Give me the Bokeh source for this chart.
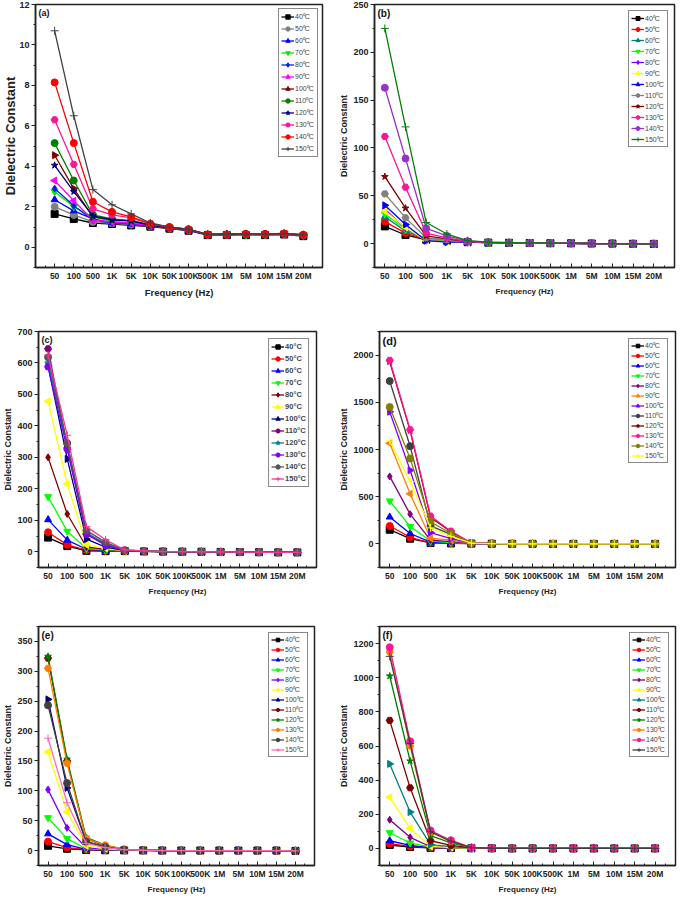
import math
from bokeh.plotting import figure
from bokeh.layouts import column, row
from bokeh.models import FixedTicker, Legend, LegendItem, Label, Range1d
from bokeh.embed import file_html
from bokeh.resources import INLINE

freq_labels = ["50", "100", "500", "1K", "5K", "10K", "50K", "100K", "500K", "1M", "5M", "10M", "15M", "20M"]
temps = [40, 50, 60, 70, 80, 90, 100, 110, 120, 130, 140, 150]

a_values = [
    [1.65, 1.40, 1.20, 1.15, 1.08, 1.02, 0.92, 0.82, 0.60, 0.60, 0.60, 0.60, 0.63, 0.55],
    [2.00, 1.60, 1.25, 1.18, 1.12, 1.05, 0.95, 0.85, 0.62, 0.62, 0.62, 0.62, 0.65, 0.58],
    [2.35, 1.80, 1.40, 1.22, 1.15, 1.06, 0.95, 0.85, 0.62, 0.64, 0.66, 0.64, 0.67, 0.58],
    [2.75, 2.00, 1.50, 1.28, 1.20, 1.08, 0.96, 0.86, 0.63, 0.63, 0.60, 0.63, 0.66, 0.60],
    [2.90, 2.05, 1.35, 1.20, 1.18, 1.05, 0.95, 0.84, 0.62, 0.65, 0.68, 0.65, 0.68, 0.60],
    [3.30, 2.30, 1.35, 1.25, 1.20, 1.07, 0.96, 0.85, 0.62, 0.62, 0.64, 0.62, 0.66, 0.58],
    [4.55, 2.90, 1.50, 1.35, 1.30, 1.10, 0.97, 0.87, 0.63, 0.63, 0.65, 0.64, 0.67, 0.60],
    [5.15, 3.30, 1.60, 1.40, 1.32, 1.12, 0.98, 0.88, 0.63, 0.63, 0.64, 0.64, 0.67, 0.60],
    [4.05, 2.75, 1.55, 1.35, 1.30, 1.10, 0.97, 0.87, 0.63, 0.65, 0.66, 0.65, 0.68, 0.60],
    [6.30, 4.10, 1.90, 1.60, 1.45, 1.15, 0.99, 0.88, 0.62, 0.63, 0.65, 0.65, 0.67, 0.60],
    [8.15, 5.15, 2.25, 1.75, 1.50, 1.17, 1.00, 0.89, 0.63, 0.62, 0.66, 0.66, 0.68, 0.62],
    [10.70, 6.50, 2.85, 2.10, 1.65, 1.20, 1.00, 0.90, 0.64, 0.64, 0.65, 0.65, 0.68, 0.62],
]

b_values = [
    [18, 9, 4, 3, 1.5, 1.0, 0.8, 0.6, 0.4, 0.3, 0.1, 0.0, -0.2, -0.3],
    [23, 11, 4.5, 3, 1.5, 1.0, 0.8, 0.6, 0.4, 0.3, 0.1, 0.0, -0.2, -0.3],
    [28, 13, 5, 3, 1.5, 1.0, 0.8, 0.6, 0.4, 0.3, 0.1, 0.0, -0.2, -0.3],
    [31, 15, 5, 3, 1.5, 1.0, 0.8, 0.6, 0.4, 0.3, 0.1, 0.0, -0.2, -0.3],
    [36, 16, 3, 2, 1.5, 1.0, 0.8, 0.6, 0.4, 0.3, 0.1, 0.0, -0.2, -0.3],
    [34, 17, 3, 2, 1.5, 1.0, 0.8, 0.6, 0.4, 0.3, 0.1, 0.0, -0.2, -0.3],
    [40, 20, 3, 1.5, 1.5, 1.0, 0.8, 0.6, 0.4, 0.3, 0.1, 0.0, -0.2, -0.3],
    [52, 27, 6, 4, 2, 1.2, 0.8, 0.6, 0.4, 0.3, 0.1, 0.0, -0.2, -0.3],
    [70, 37, 8, 5, 2, 1.2, 0.8, 0.6, 0.4, 0.3, 0.1, 0.0, -0.2, -0.3],
    [112, 59, 11, 6, 2, 1.3, 0.8, 0.6, 0.4, 0.3, 0.1, 0.0, -0.2, -0.3],
    [163, 89, 16, 8, 2.5, 1.4, 0.9, 0.6, 0.4, 0.3, 0.1, 0.0, -0.2, -0.3],
    [225, 122, 22, 10, 3, 1.5, 0.9, 0.7, 0.5, 0.3, 0.1, 0.0, -0.2, -0.3],
]

c_values = [
    [45, 18, 3, 2, 2, 1, 0.5, 0.3, 0, -0.5, -1, -1.5, -2, -2],
    [62, 22, 5, 3, 2, 1, 0.5, 0.3, 0, -0.5, -1, -1.5, -2, -2],
    [102, 37, 8, 4, 3, 1.5, 0.5, 0.3, 0, -0.5, -1, -1.5, -2, -2],
    [175, 65, 10, 5, 3, 1.5, 0.5, 0.3, 0, -0.5, -1, -1.5, -2, -2],
    [300, 120, 15, 8, 3, 1.5, 0.5, 0.3, 0, -0.5, -1, -1.5, -2, -2],
    [478, 215, 22, 10, 3, 2, 0.6, 0.3, 0, -0.5, -1, -1.5, -2, -2],
    [590, 295, 40, 15, 4, 2, 0.6, 0.3, 0, -0.5, -1, -1.5, -2, -2],
    [645, 330, 55, 22, 4, 2, 0.7, 0.3, 0, -0.5, -1, -1.5, -2, -2],
    [600, 340, 60, 25, 5, 2.5, 0.7, 0.3, 0, -0.5, -1, -1.5, -2, -2],
    [588, 325, 58, 20, 4, 2, 0.7, 0.3, 0, -0.5, -1, -1.5, -2, -2],
    [618, 345, 68, 30, 5, 2.5, 0.8, 0.4, 0, -0.5, -1, -1.5, -2, -2],
    [625, 370, 80, 38, 6, 3, 0.8, 0.4, 0, -0.5, -1, -1.5, -2, -2],
]

d_values = [
    [150, 55, 10, 5, 3, 2, 1, 0.5, 0, 0, 0, 0, 0, 0],
    [190, 70, 12, 8, 3, 2, 1, 0.5, 0, 0, 0, 0, 0, 0],
    [285, 110, 18, 12, 4, 2, 1, 0.5, 0, 0, 0, 0, 0, 0],
    [455, 185, 30, 15, 5, 2, 1, 0.5, 0, 0, 0, 0, 0, 0],
    [715, 315, 40, 25, 5, 3, 1, 0.5, 0, 0, 0, 0, 0, 0],
    [1065, 530, 60, 40, 6, 3, 1, 0.5, 0, 0, 0, 0, 0, 0],
    [1400, 780, 120, 55, 7, 3, 1, 0.5, 0, 0, 0, 0, 0, 0],
    [1725, 1035, 190, 100, 8, 4, 1, 0.5, 0, 0, 0, 0, 0, 0],
    [1930, 1200, 280, 130, 10, 4, 1, 0.5, 0, 0, 0, 0, 0, 0],
    [1945, 1210, 295, 135, 10, 5, 1, 0.5, 0, 0, 0, 0, 0, 0],
    [1450, 905, 235, 110, 9, 4, 1, 0.5, 0, 0, 0, 0, 0, 0],
    [1090, 660, 170, 80, 8, 3, 1, 0.5, 0, 0, 0, 0, 0, 0],
]

e_values = [
    [8, 3, 1, 0.5, 0.3, 0.2, 0, 0, 0, 0, 0, 0, 0, -0.5],
    [15, 5, 1.5, 1, 0.5, 0.2, 0, 0, 0, 0, 0, 0, 0, -0.5],
    [28, 10, 2, 1, 0.5, 0.2, 0, 0, 0, 0, 0, 0, 0, -0.5],
    [55, 20, 3, 1.5, 1, 0.3, 0, 0, 0, 0, 0, 0, 0, -0.5],
    [102, 38, 5, 2, 1, 0.3, 0, 0, 0, 0, 0, 0, 0, -0.5],
    [165, 65, 8, 3, 1, 0.4, 0, 0, 0, 0, 0, 0, 0, -0.5],
    [253, 105, 15, 6, 1.5, 0.5, 0.1, 0, 0, 0, 0, 0, 0, -0.5],
    [322, 150, 20, 8, 2, 0.6, 0.1, 0, 0, 0, 0, 0, 0, -0.5],
    [325, 153, 22, 9, 2, 0.6, 0.1, 0, 0, 0, 0, 0, 0, -0.5],
    [305, 146, 20, 9, 2, 0.6, 0.1, 0, 0, 0, 0, 0, 0, -0.5],
    [243, 113, 15, 6, 1.5, 0.5, 0.1, 0, 0, 0, 0, 0, 0, -0.5],
    [188, 80, 12, 5, 1.5, 0.5, 0.1, 0, 0, 0, 0, 0, 0, -0.5],
]

f_values = [
    [20, 8, 3, 2, 1, 0.5, 0, 0, 0, 0, 0, 0, 0, 0],
    [28, 12, 4, 3, 1, 0.5, 0, 0, 0, 0, 0, 0, 0, 0],
    [45, 18, 5, 3, 1, 0.5, 0, 0, 0, 0, 0, 0, 0, 0],
    [92, 32, 8, 5, 1, 0.5, 0, 0, 0, 0, 0, 0, 0, 0],
    [168, 65, 10, 5, 1.5, 0.5, 0, 0, 0, 0, 0, 0, 0, 0],
    [300, 118, 12, 5, 1.5, 0.5, 0, 0, 0, 0, 0, 0, 0, 0],
    [495, 213, 22, 10, 2, 1, 0, 0, 0, 0, 0, 0, 0, 0],
    [750, 355, 45, 18, 3, 1, 0, 0, 0, 0, 0, 0, 0, 0],
    [1010, 512, 75, 32, 4, 1, 0, 0, 0, 0, 0, 0, 0, 0],
    [1150, 600, 95, 40, 5, 1, 0, 0, 0, 0, 0, 0, 0, 0],
    [1178, 628, 105, 48, 5, 1, 0, 0, 0, 0, 0, 0, 0, 0],
    [1125, 615, 98, 42, 5, 1, 0, 0, 0, 0, 0, 0, 0, 0],
]

# ---- styles ----
L = ("triangle", math.pi / 2)
R = ("triangle", -math.pi / 2)
SQ = ("square", 0); CI = ("circle", 0); TR = ("triangle", 0); IT = ("inverted_triangle", 0)
DI = ("diamond", 0); HX = ("hex", 0); ST = ("star", 0); CR = ("cross", 0)

FONT = "Liberation Sans"

panels = [
    dict(tag="(a)", vals=a_values, deg="⁰C",
         colors=["#000000", "#808080", "#0000ff", "#00ee00", "#0022ee", "#ff00ff", "#800000", "#008000", "#000080", "#ff1493", "#ff0000", "#404040"],
         markers=[SQ, CI, TR, IT, DI, L, R, CI, ST, HX, CI, CR],
         yr=(-1, 12), yticks=[0, 2, 4, 6, 8, 10, 12], ystep=1, xr=(-1, 14),
         w=336, h=300, bl=28, br=14, bt=4, bb=30, ytitle=13, yls=-2, xtitle=9.5, tagsize=9,
         lg=dict(gh=11, sp=1, m=4, fs=7)),
    dict(tag="(b)", vals=b_values, deg="⁰C",
         colors=["#000000", "#ff0000", "#008080", "#00ff00", "#8000ff", "#ffff00", "#0000ff", "#808080", "#800000", "#ff1493", "#9932cc", "#008000"],
         markers=[SQ, CI, TR, IT, DI, L, R, HX, ST, HX, CI, CR],
         yr=(-25, 250), yticks=[0, 50, 100, 150, 200, 250], ystep=25, xr=(-0.5, 14),
         w=341, h=300, bl=28, br=3, bt=4, bb=30, ytitle=9, yls=1, xtitle=8, tagsize=10,
         lg=dict(gh=10, sp=1, m=6, fs=7)),
    dict(tag="(c)", vals=c_values, deg="°C",
         colors=["#000000", "#ff0000", "#0000ff", "#00ff00", "#800000", "#ffff00", "#000080", "#800080", "#008080", "#8000ff", "#555555", "#ff3399"],
         markers=[SQ, CI, TR, IT, DI, L, R, HX, ST, HX, CI, CR],
         yr=(-50, 700), yticks=[0, 100, 200, 300, 400, 500, 600, 700], ystep=50, xr=(-0.5, 14),
         w=336, h=298, bl=30, br=20, bt=31, bb=26, ytitle=9, yls=1, xtitle=8, tagsize=9,
         lg=dict(gh=11, sp=1, m=7, fs=7.5)),
    dict(tag="(d)", vals=d_values, deg="⁰C",
         colors=["#000000", "#ff0000", "#0000ff", "#00ff00", "#800080", "#ff8000", "#8000ff", "#404040", "#800000", "#ff1493", "#808000", "#ffff00"],
         markers=[SQ, CI, TR, IT, DI, L, R, CI, ST, HX, CI, CR],
         yr=(-250, 2250), yticks=[0, 500, 1000, 1500, 2000], ystep=250, xr=(-0.5, 14),
         w=341, h=298, bl=34, br=2, bt=27, bb=26, ytitle=9, yls=1, xtitle=8, tagsize=11,
         lg=dict(gh=9, sp=1, m=7, fs=7)),
    dict(tag="(e)", vals=e_values, deg="⁰C",
         colors=["#000000", "#ff0000", "#0000ff", "#00ff00", "#8000ff", "#ffff00", "#000080", "#800000", "#008000", "#ff8000", "#404040", "#ff69b4"],
         markers=[SQ, CI, TR, IT, DI, L, R, HX, ST, HX, CI, CR],
         yr=(-25, 375), yticks=[0, 50, 100, 150, 200, 250, 300, 350], ystep=25, xr=(-0.5, 14),
         w=336, h=298, bl=30, br=22, bt=28, bb=26, ytitle=9, yls=1, xtitle=8, tagsize=10,
         lg=dict(gh=9, sp=1, m=6, fs=7)),
    dict(tag="(f)", vals=f_values, deg="⁰C",
         colors=["#000000", "#ff0000", "#0000ff", "#00ff00", "#800080", "#ffff00", "#008080", "#800000", "#008000", "#ff8000", "#ff1493", "#404040"],
         markers=[SQ, CI, TR, IT, DI, L, R, HX, ST, HX, CI, CR],
         yr=(-100, 1300), yticks=[0, 200, 400, 600, 800, 1000, 1200], ystep=100, xr=(-0.5, 14),
         w=341, h=298, bl=34, br=2, bt=27, bb=26, ytitle=9, yls=1, xtitle=8, tagsize=10,
         lg=dict(gh=9, sp=1, m=6, fs=7)),
]


def make_panel(cfg):
    p = figure(width=cfg["w"], height=cfg["h"], output_backend="svg", toolbar_location=None,
               x_range=Range1d(*cfg["xr"]), y_range=Range1d(*cfg["yr"]),
               min_border_left=cfg["bl"], min_border_right=cfg["br"],
               min_border_top=cfg["bt"], min_border_bottom=cfg["bb"])
    p.grid.visible = False
    p.outline_line_color = "#222222"
    p.outline_line_width = 1.5
    p.background_fill_color = "white"
    p.border_fill_color = "white"

    xs = list(range(len(freq_labels)))
    items = []
    for i, t in enumerate(temps):
        col = cfg["colors"][i]
        mk, ang = cfg["markers"][i]
        lr = p.line(xs, cfg["vals"][i], line_color=col, line_width=1.3)
        if mk == "cross":
            sr = p.scatter(xs, cfg["vals"][i], marker=mk, size=8, line_color=col, line_width=1)
        else:
            sr = p.scatter(xs, cfg["vals"][i], marker=mk, angle=ang, size=7,
                           fill_color=col, line_color=col, line_width=1)
        items.append(LegendItem(label=f"{t}{cfg['deg']}", renderers=[lr, sr]))

    lg = cfg["lg"]
    legend = Legend(items=items, location="top_right", margin=lg["m"], padding=2,
                    spacing=lg["sp"], glyph_width=13, glyph_height=lg["gh"], label_height=lg["gh"],
                    label_standoff=1, label_text_font=FONT, label_text_font_size=f"{lg['fs']}px",
                    label_text_font_style="bold" if cfg["deg"] == "°C" else "normal",
                    border_line_color="#111111", border_line_width=1.2,
                    background_fill_alpha=1.0)
    p.add_layout(legend)

    # axes
    xa = p.xaxis[0]
    xa.ticker = FixedTicker(ticks=xs, minor_ticks=[i + 0.5 for i in range(-1, len(xs))])
    xa.major_label_overrides = {i: lab for i, lab in enumerate(freq_labels)}
    xa.axis_label = "Frequency (Hz)"
    xa.major_tick_in = 4; xa.major_tick_out = 0
    xa.minor_tick_in = 2; xa.minor_tick_out = 0
    xa.major_label_standoff = 3
    xa.axis_label_standoff = 3

    ya = p.yaxis[0]
    ya.ticker = FixedTicker(ticks=cfg["yticks"],
                            minor_ticks=[cfg["yr"][0] + k * cfg["ystep"] for k in range(int((cfg["yr"][1] - cfg["yr"][0]) / cfg["ystep"]) + 1)])
    ya.axis_label = "Dielectric Constant"
    ya.major_tick_in = 0; ya.major_tick_out = 4
    ya.minor_tick_in = 0; ya.minor_tick_out = 2
    ya.major_label_standoff = 2
    ya.axis_label_standoff = cfg["yls"]

    for ax in (xa, ya):
        ax.axis_line_color = "#222222"
        ax.axis_line_width = 1.5
        ax.major_tick_line_color = "#222222"
        ax.minor_tick_line_color = "#222222"
        ax.major_label_text_font = FONT
        ax.major_label_text_font_style = "bold"
        ax.major_label_text_font_size = "8.5px"
        ax.major_label_text_color = "#222222"
        ax.axis_label_text_font = FONT
        ax.axis_label_text_font_style = "bold"
        ax.axis_label_text_color = "#222222"
    ya.axis_label_text_font_size = f"{cfg['ytitle']}px"
    xa.axis_label_text_font_size = f"{cfg['xtitle']}px"
    ya.major_label_text_font_size = "9px"

    p.add_layout(Label(x=cfg["xr"][0], y=cfg["yr"][1], x_offset=3, y_offset=-3,
                       text=cfg["tag"], text_baseline="top", text_font=FONT,
                       text_font_style="bold", text_font_size=f"{cfg['tagsize']}px",
                       text_color="#111111"))
    return p


figs = [make_panel(c) for c in panels]
layout = column(row(figs[0], figs[1]), row(figs[2], figs[3]), row(figs[4], figs[5]))

with open("out.html", "w") as fh:
    fh.write(file_html(layout, INLINE, title="Dielectric constant vs frequency"))
